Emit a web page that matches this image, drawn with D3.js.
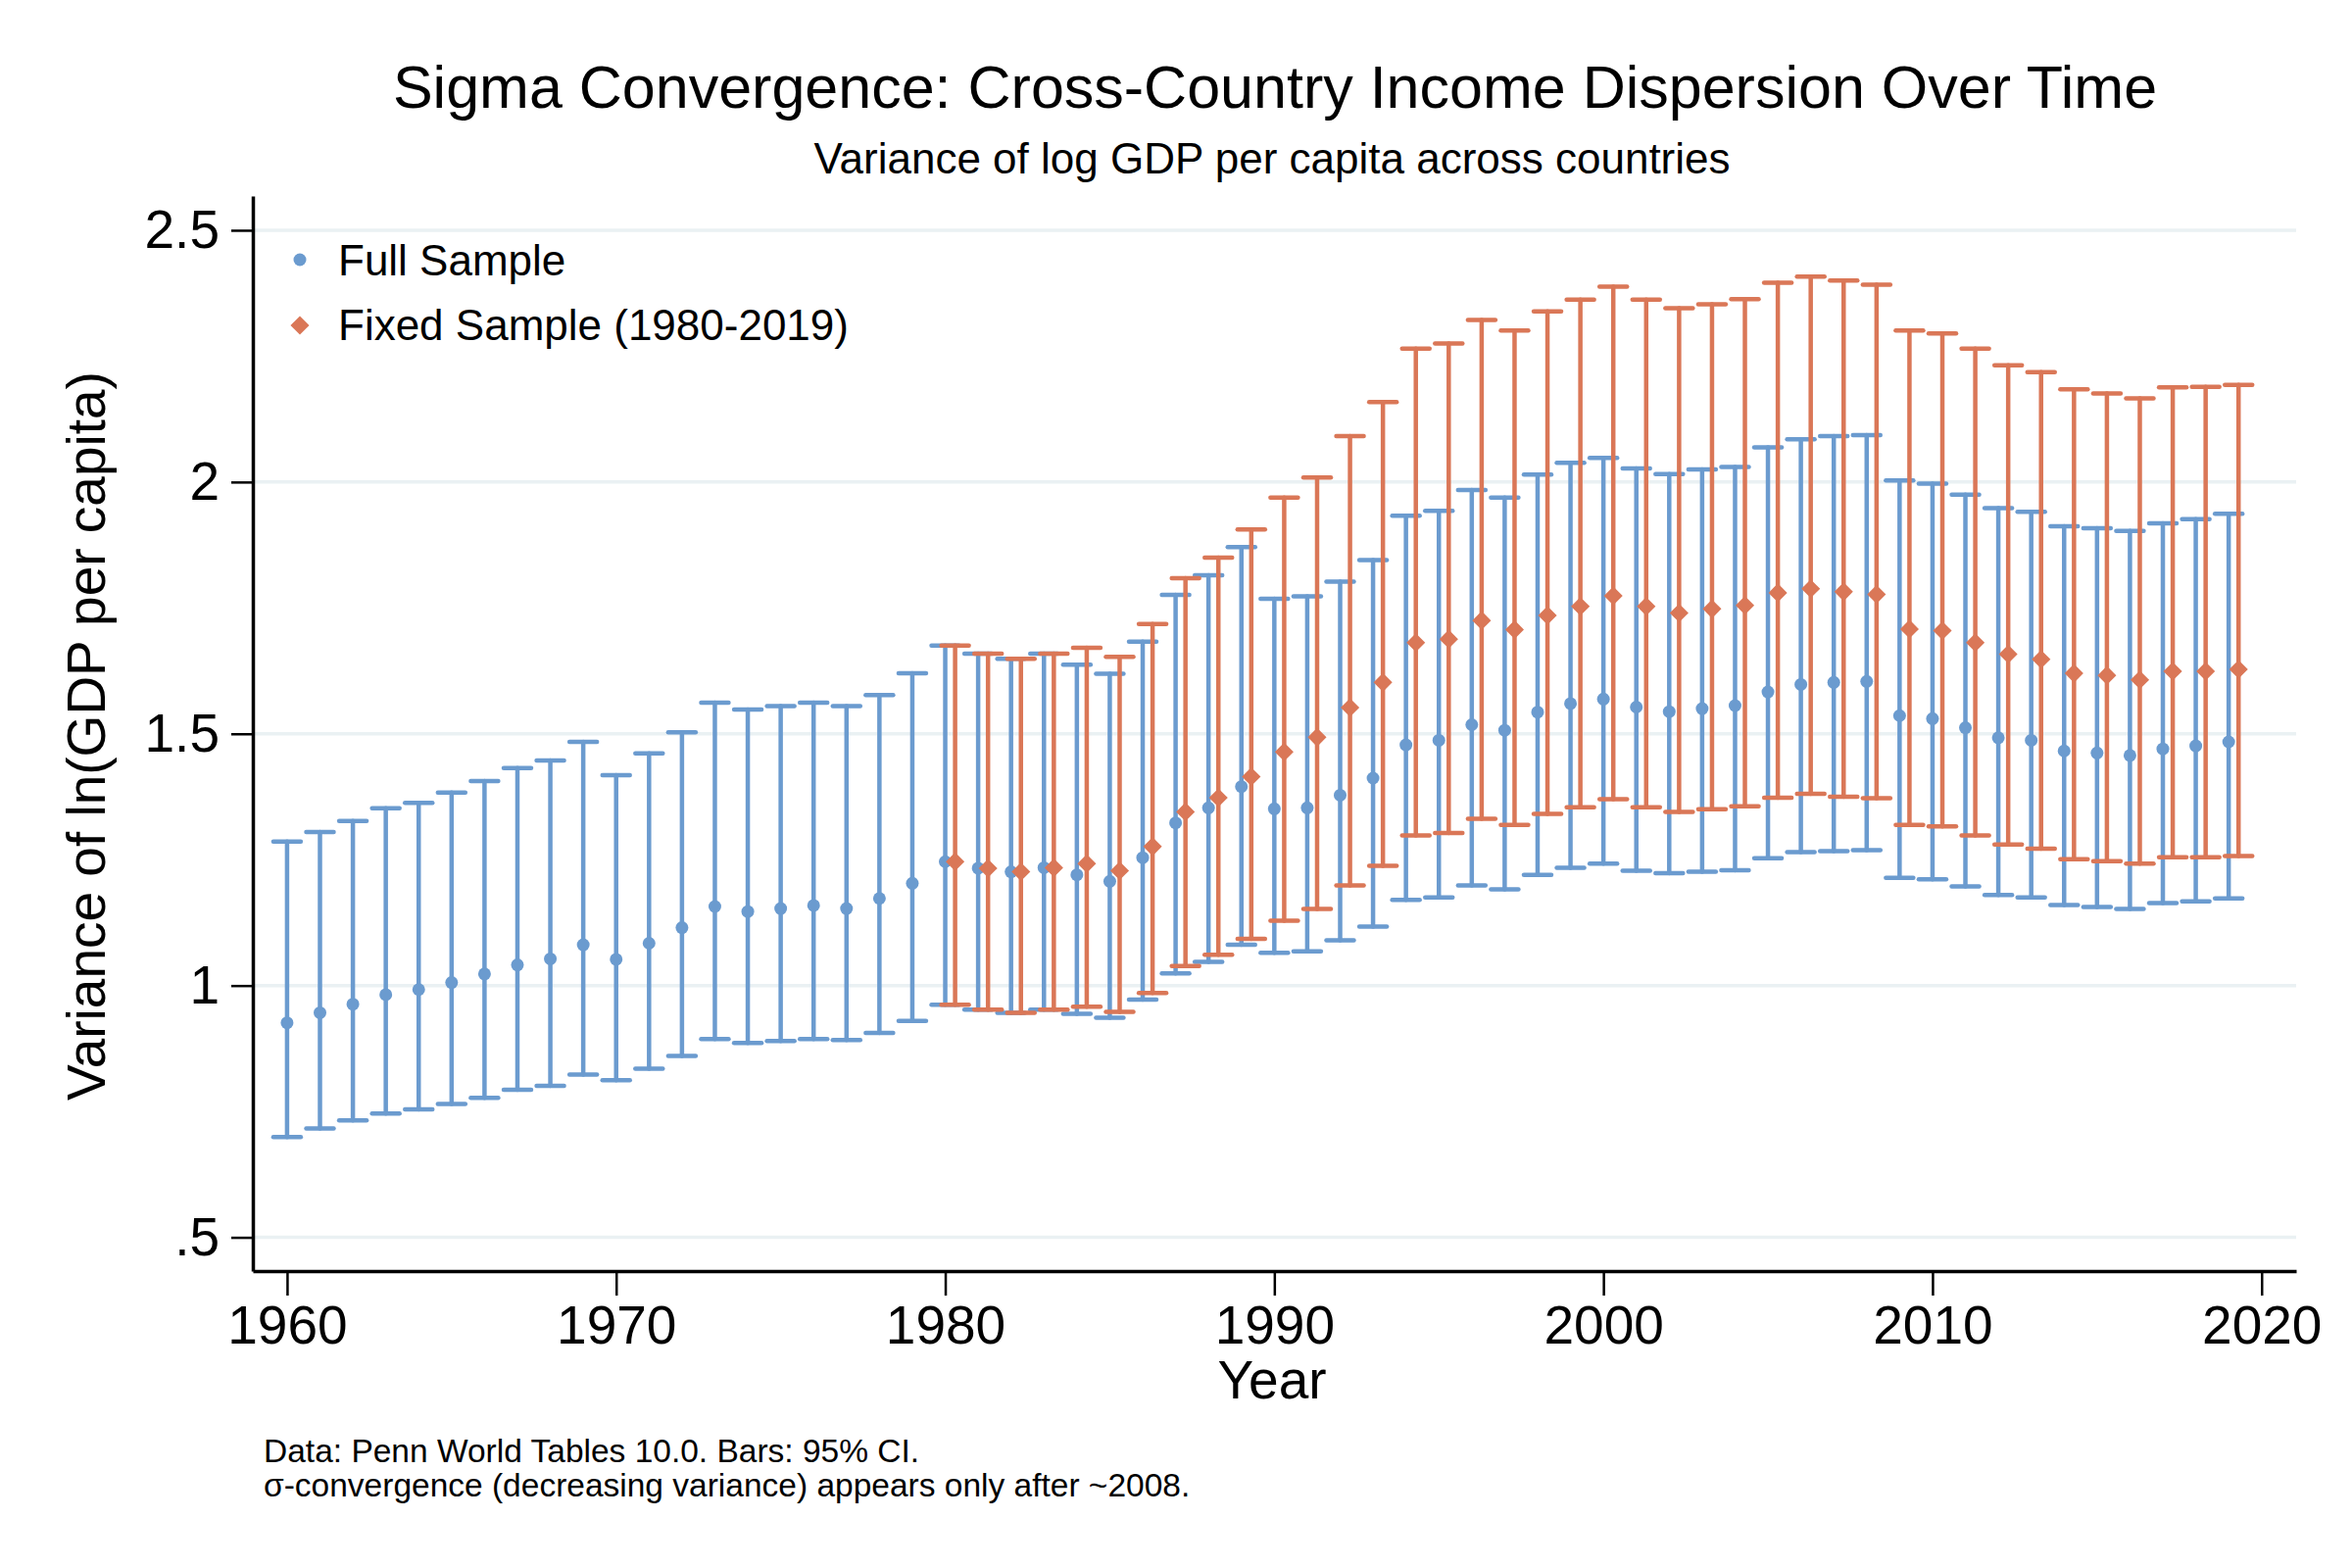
<!DOCTYPE html>
<html>

<head>
    <meta charset="utf-8">
    <style>
        body { margin: 0; background: #fff; }
        text { font-family: "Liberation Sans", Arial, Helvetica, sans-serif; fill: #000; }
    </style>
</head>

<body>
    <svg width="2400" height="1600"></svg>
    <script src="https://d3js.org/d3.v7.min.js"></script>
    <script>
        // full sample: every country with data in that year
        var years = d3.range(1960, 2020);
        var fullMean = [0.926, 0.946, 0.963, 0.982, 0.992, 1.006, 1.023, 1.041, 1.053, 1.081,
            1.052, 1.084, 1.115, 1.157, 1.147, 1.153, 1.159, 1.153, 1.173, 1.203,
            1.246, 1.233, 1.226, 1.234, 1.220, 1.207, 1.254, 1.323, 1.353, 1.395,
            1.351, 1.353, 1.378, 1.412, 1.478, 1.487, 1.518, 1.507, 1.543, 1.560,
            1.569, 1.553, 1.544, 1.550, 1.556, 1.583, 1.598, 1.602, 1.604, 1.536,
            1.530, 1.512, 1.492, 1.487, 1.466, 1.462, 1.457, 1.470, 1.476, 1.484];
        var fullLo = [0.699, 0.716, 0.732, 0.746, 0.754, 0.765, 0.777, 0.793, 0.801, 0.823,
            0.812, 0.835, 0.860, 0.894, 0.886, 0.890, 0.894, 0.892, 0.906, 0.930,
            0.962, 0.952, 0.946, 0.952, 0.944, 0.936, 0.972, 1.024, 1.047, 1.081,
            1.065, 1.068, 1.090, 1.117, 1.170, 1.175, 1.199, 1.191, 1.220, 1.234,
            1.242, 1.228, 1.223, 1.226, 1.229, 1.253, 1.265, 1.267, 1.269, 1.214,
            1.211, 1.197, 1.180, 1.175, 1.160, 1.156, 1.152, 1.164, 1.167, 1.173];
        var fullHi = [1.286, 1.305, 1.327, 1.352, 1.363, 1.383, 1.406, 1.432, 1.447, 1.484,
            1.418, 1.461, 1.503, 1.562, 1.548, 1.555, 1.562, 1.555, 1.577, 1.620,
            1.675, 1.659, 1.649, 1.659, 1.637, 1.619, 1.683, 1.776, 1.815, 1.871,
            1.768, 1.773, 1.802, 1.845, 1.933, 1.943, 1.984, 1.969, 2.015, 2.038,
            2.048, 2.027, 2.016, 2.025, 2.030, 2.069, 2.085, 2.091, 2.093, 2.003,
            1.997, 1.975, 1.948, 1.941, 1.912, 1.908, 1.903, 1.918, 1.926, 1.937];

        // fixed sample: countries present 1980-2019
        var fixedYears = d3.range(1980, 2020);
        var fixedMean = [1.246, 1.233, 1.226, 1.234, 1.242, 1.228, 1.276, 1.345, 1.373, 1.415,
            1.464, 1.493, 1.552, 1.602, 1.681, 1.688, 1.725, 1.707, 1.735, 1.753,
            1.774, 1.753, 1.740, 1.748, 1.755, 1.780, 1.788, 1.782, 1.777, 1.708,
            1.705, 1.681, 1.658, 1.648, 1.620, 1.616, 1.607, 1.624, 1.624, 1.628];
        var fixedLo = [0.962, 0.952, 0.946, 0.952, 0.958, 0.948, 0.985, 1.039, 1.061, 1.093,
            1.129, 1.152, 1.199, 1.238, 1.298, 1.303, 1.331, 1.319, 1.341, 1.354,
            1.370, 1.354, 1.345, 1.350, 1.356, 1.373, 1.381, 1.375, 1.372, 1.319,
            1.316, 1.298, 1.280, 1.272, 1.251, 1.247, 1.242, 1.255, 1.255, 1.257];
        var fixedHi = [1.675, 1.659, 1.649, 1.659, 1.671, 1.653, 1.718, 1.809, 1.850, 1.906,
            1.969, 2.009, 2.091, 2.159, 2.265, 2.275, 2.322, 2.301, 2.339, 2.362,
            2.388, 2.362, 2.345, 2.353, 2.363, 2.396, 2.408, 2.400, 2.392, 2.301,
            2.295, 2.265, 2.232, 2.218, 2.184, 2.176, 2.166, 2.188, 2.189, 2.193];

        var yTicks = [0.5, 1, 1.5, 2, 2.5];
        var xTicks = [1960, 1970, 1980, 1990, 2000, 2010, 2020];
        var seriesNames = ["Full Sample", "Fixed Sample (1980-2019)"];

        var blue = "#6b9bcf", orange = "#da7757", grid = "#eaf1f3";
        var fixedOffset = 0.3; // fixed sample is nudged right so bars don't overlap

        var svg = d3.select("svg"),
            plotLeft = 258, plotRight = 2343, plotTop = 200, plotBottom = 1297;

        var x = d3.scaleLinear().domain([1958.96, 2021.05]).range([plotLeft, plotRight]);
        var y = d3.scaleLinear().domain([0.433, 2.568]).range([plotBottom, plotTop]);

        var full = years.map(function (yr, i) {
            return { x: yr, m: fullMean[i], lo: fullLo[i], hi: fullHi[i] };
        });
        var fixed = fixedYears.map(function (yr, i) {
            return { x: yr + fixedOffset, m: fixedMean[i], lo: fixedLo[i], hi: fixedHi[i] };
        });

        // gridlines
        svg.append("g").selectAll("line")
            .data(yTicks)
            .enter().append("line")
            .attr("x1", plotLeft).attr("x2", plotRight)
            .attr("y1", function (d) { return y(d) })
            .attr("y2", function (d) { return y(d) })
            .attr("stroke", grid)
            .attr("stroke-width", 3.5);

        var capW = 14;
        function drawBars(data, color) {
            var g = svg.append("g")
                .attr("stroke", color)
                .attr("stroke-width", 4.5)
                .attr("stroke-linecap", "round");
            g.selectAll(".stem")
                .data(data)
                .enter().append("line")
                .attr("x1", function (d) { return x(d.x) })
                .attr("x2", function (d) { return x(d.x) })
                .attr("y1", function (d) { return y(d.lo) })
                .attr("y2", function (d) { return y(d.hi) });
            g.selectAll(".capHi")
                .data(data)
                .enter().append("line")
                .attr("x1", function (d) { return x(d.x) - capW })
                .attr("x2", function (d) { return x(d.x) + capW })
                .attr("y1", function (d) { return y(d.hi) })
                .attr("y2", function (d) { return y(d.hi) });
            g.selectAll(".capLo")
                .data(data)
                .enter().append("line")
                .attr("x1", function (d) { return x(d.x) - capW })
                .attr("x2", function (d) { return x(d.x) + capW })
                .attr("y1", function (d) { return y(d.lo) })
                .attr("y2", function (d) { return y(d.lo) });
        }

        var circle = d3.symbol().type(d3.symbolCircle).size(Math.PI * 6.5 * 6.5);
        var diamond = d3.symbol().type(d3.symbolSquare).size(13.5 * 13.5);

        drawBars(full, blue);
        svg.append("g").selectAll("path")
            .data(full)
            .enter().append("path")
            .attr("d", circle)
            .attr("transform", function (d) { return "translate(" + x(d.x) + "," + y(d.m) + ")" })
            .attr("fill", blue);

        drawBars(fixed, orange);
        svg.append("g").selectAll("path")
            .data(fixed)
            .enter().append("path")
            .attr("d", diamond)
            .attr("transform", function (d) { return "translate(" + x(d.x) + "," + y(d.m) + ") rotate(45)" })
            .attr("fill", orange);

        // axes
        var yAxis = svg.append("g")
            .attr("transform", "translate(" + plotLeft + ",0)")
            .call(d3.axisLeft(y)
                .tickValues(yTicks)
                .tickSize(22)
                .tickSizeOuter(0)
                .tickPadding(12)
                .tickFormat(function (d) { return d3.format("")(d).replace(/^0\./, ".") }));

        var xAxis = svg.append("g")
            .attr("transform", "translate(0," + plotBottom + ")")
            .call(d3.axisBottom(x)
                .tickValues(xTicks)
                .tickSize(25)
                .tickSizeOuter(0)
                .tickPadding(10)
                .tickFormat(d3.format("d")));

        [yAxis, xAxis].forEach(function (a) {
            a.attr("font-family", null).attr("font-size", null);
            a.select(".domain").attr("stroke", "#000").attr("stroke-width", 3.5);
            a.selectAll(".tick line").attr("stroke", "#000").attr("stroke-width", 2.5);
            a.selectAll(".tick text").attr("font-size", 55).attr("fill", "#000");
        });

        // titles
        svg.append("text")
            .attr("x", 1301).attr("y", 110)
            .attr("text-anchor", "middle")
            .attr("font-size", 61)
            .text("Sigma Convergence: Cross-Country Income Dispersion Over Time");
        svg.append("text")
            .attr("x", 1298).attr("y", 177)
            .attr("text-anchor", "middle")
            .attr("font-size", 44)
            .text("Variance of log GDP per capita across countries");
        svg.append("text")
            .attr("x", 1298).attr("y", 1427)
            .attr("text-anchor", "middle")
            .attr("font-size", 55)
            .text("Year");
        svg.append("text")
            .attr("transform", "translate(107,751) rotate(-90)")
            .attr("text-anchor", "middle")
            .attr("font-size", 55)
            .text("Variance of ln(GDP per capita)");

        // legend
        var legend = svg.append("g");
        legend.append("path")
            .attr("d", circle)
            .attr("transform", "translate(306,265)")
            .attr("fill", blue);
        legend.append("path")
            .attr("d", diamond)
            .attr("transform", "translate(306,332) rotate(45)")
            .attr("fill", orange);
        legend.selectAll("text")
            .data(seriesNames)
            .enter().append("text")
            .attr("x", 345)
            .attr("y", function (d, i) { return 281 + i * 66 })
            .attr("font-size", 44)
            .text(function (d) { return d });

        // note
        var note = svg.append("text")
            .attr("x", 269).attr("y", 1492)
            .attr("font-size", 33.5);
        note.append("tspan").attr("x", 269).text("Data: Penn World Tables 10.0. Bars: 95% CI.");
        note.append("tspan").attr("x", 269).attr("dy", 35).text("σ-convergence (decreasing variance) appears only after ~2008.");
    </script>
</body>

</html>
